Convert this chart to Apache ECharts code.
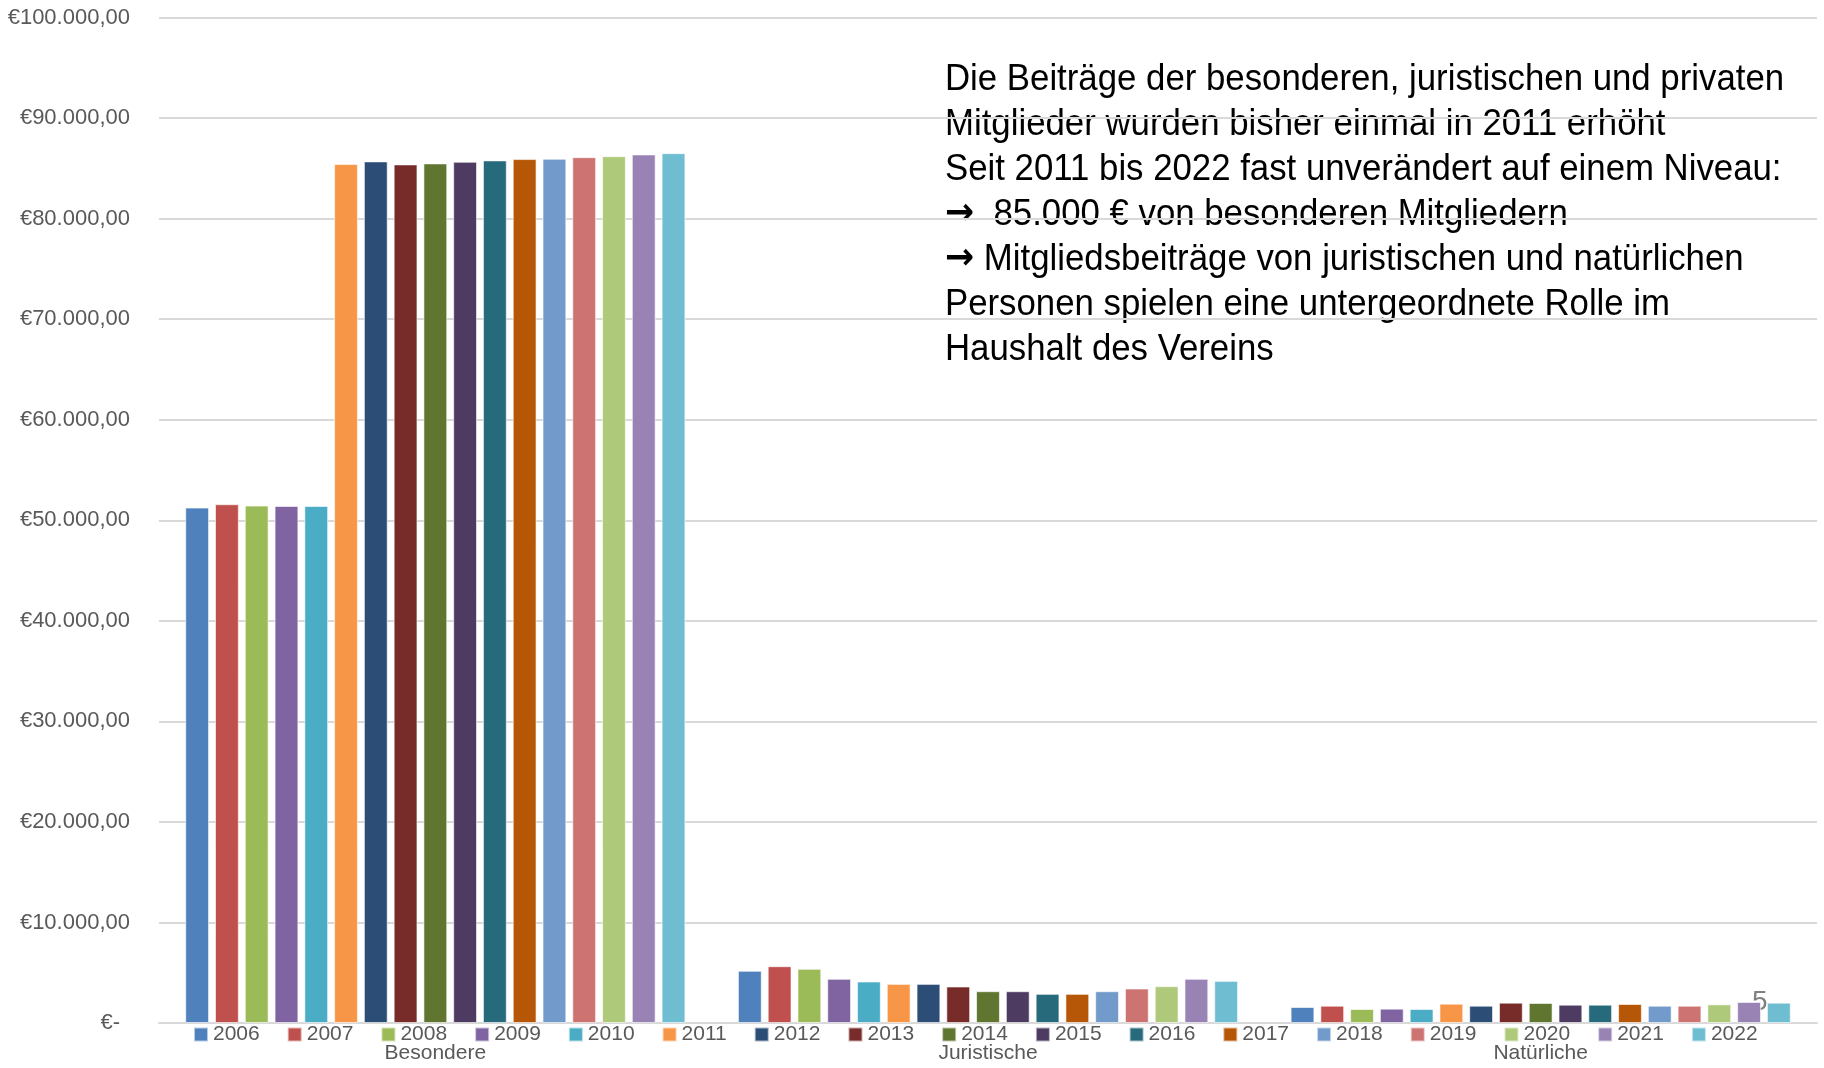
<!DOCTYPE html>
<html>
<head>
<meta charset="utf-8">
<title>Mitgliedsbeiträge</title>
<script src="https://cdn.jsdelivr.net/npm/echarts@6/dist/echarts.min.js"></script>
<style>
    html, body { margin: 0; padding: 0; background: #fff; }
    #main { width: 1824px; height: 1068px; }
</style>
</head>
<body>
<div id="main"></div>
<script>
var categories = ['Besondere', 'Juristische', 'Natürliche'];
var years = ['2006', '2007', '2008', '2009', '2010', '2011', '2012', '2013', '2014',
             '2015', '2016', '2017', '2018', '2019', '2020', '2021', '2022'];

// Beiträge je Jahr (Reihenfolge wie years)
var besondere = [51260, 51590, 51460, 51420, 51420, 85420, 85690, 85390, 85490,
                 85650, 85790, 85920, 85950, 86110, 86210, 86380, 86510];
var juristische = [5190, 5650, 5390, 4390, 4125, 3890, 3890, 3630, 3160,
                   3160, 2900, 2900, 3160, 3430, 3660, 4390, 4190];
var natuerliche = [1590, 1720, 1390, 1425, 1390, 1920, 1720, 2020, 1990,
                   1820, 1820, 1890, 1720, 1720, 1855, 2090, 2020];

var colors = ['#4F81BD', '#C0504D', '#9BBB59', '#8064A2', '#4BACC6', '#F79646',
              '#2C4D75', '#772C2A', '#5F7530', '#4D3B62', '#276A7C', '#B65708',
              '#729ACA', '#CD7371', '#AFC97A', '#9983B5', '#6FBDD1'];

var note = [
    'Die Beiträge der besonderen, juristischen und privaten',
    'Mitglieder wurden bisher einmal in 2011 erhöht',
    'Seit 2011 bis 2022 fast unverändert auf einem Niveau:',
    '{a|\u2192}  85.000 € von besonderen Mitgliedern',
    '{a|\u2192} Mitgliedsbeiträge von juristischen und natürlichen',
    'Personen spielen eine untergeordnete Rolle im',
    'Haushalt des Vereins'
];

function euro(v) {
    if (v === 0) return '{z|€-}';
    var s = String(Math.round(v)).replace(/\B(?=(\d{3})+(?!\d))/g, '.');
    return '€' + s + ',00';
}

function drawChart() {
    var myChart = echarts.init(document.getElementById('main'));
    var series = [];
    for (var i = 0; i < years.length; i++) {
        series.push({
            name: years[i],
            type: 'bar',
            barGap: '25%',
            barCategoryGap: '9.5%',
            itemStyle: {
                color: colors[i],
                borderColor: 'rgba(255,255,255,0.6)',
                borderWidth: 1
            },
            data: [besondere[i], juristische[i], natuerliche[i]]
        });
    }

    var option = {
        animation: false,
        color: colors,
        grid: { left: 159, right: 7, top: 17.5, bottom: 45 },
        legend: {
            data: years,
            left: 188,
            top: 1019,
            icon: 'rect',
            itemWidth: 14,
            itemHeight: 14,
            itemGap: 27,
            textStyle: {
                color: '#595959',
                fontFamily: 'Liberation Sans',
                fontSize: 21
            }
        },
        xAxis: {
            type: 'category',
            data: categories,
            axisLine: { lineStyle: { color: '#d9d9d9', width: 2 } },
            axisTick: { show: false },
            axisLabel: {
                color: '#595959',
                fontFamily: 'Liberation Sans',
                fontSize: 21,
                margin: 20
            }
        },
        yAxis: {
            type: 'value',
            min: 0,
            max: 100000,
            interval: 10000,
            axisLine: { show: false },
            axisTick: { show: false },
            splitLine: { lineStyle: { color: '#d9d9d9', width: 2 } },
            axisLabel: {
                color: '#595959',
                fontFamily: 'Liberation Sans',
                fontSize: 22,
                margin: 29,
                formatter: euro,
                rich: {
                    z: {
                        color: '#595959',
                        fontFamily: 'Liberation Sans',
                        fontSize: 22,
                        padding: [0, 10, 0, 0]
                    }
                }
            }
        },
        graphic: [
            {
                type: 'text',
                left: 945,
                top: 57,
                scaleX: 0.94,
                style: {
                    text: note.join('\n'),
                    fill: '#000',
                    font: '37px "Liberation Sans", sans-serif',
                    lineHeight: 45,
                    rich: {
                        a: {
                            fill: '#000',
                            font: 'bold 37px "DejaVu Sans", sans-serif',
                            lineHeight: 45
                        }
                    }
                }
            },
            {
                type: 'text',
                left: 1752,
                top: 988,
                style: {
                    text: '5',
                    fill: '#808080',
                    font: '28px "Liberation Sans", sans-serif'
                }
            }
        ],
        series: series
    };

    myChart.setOption(option);
}

drawChart();
</script>
</body>
</html>
